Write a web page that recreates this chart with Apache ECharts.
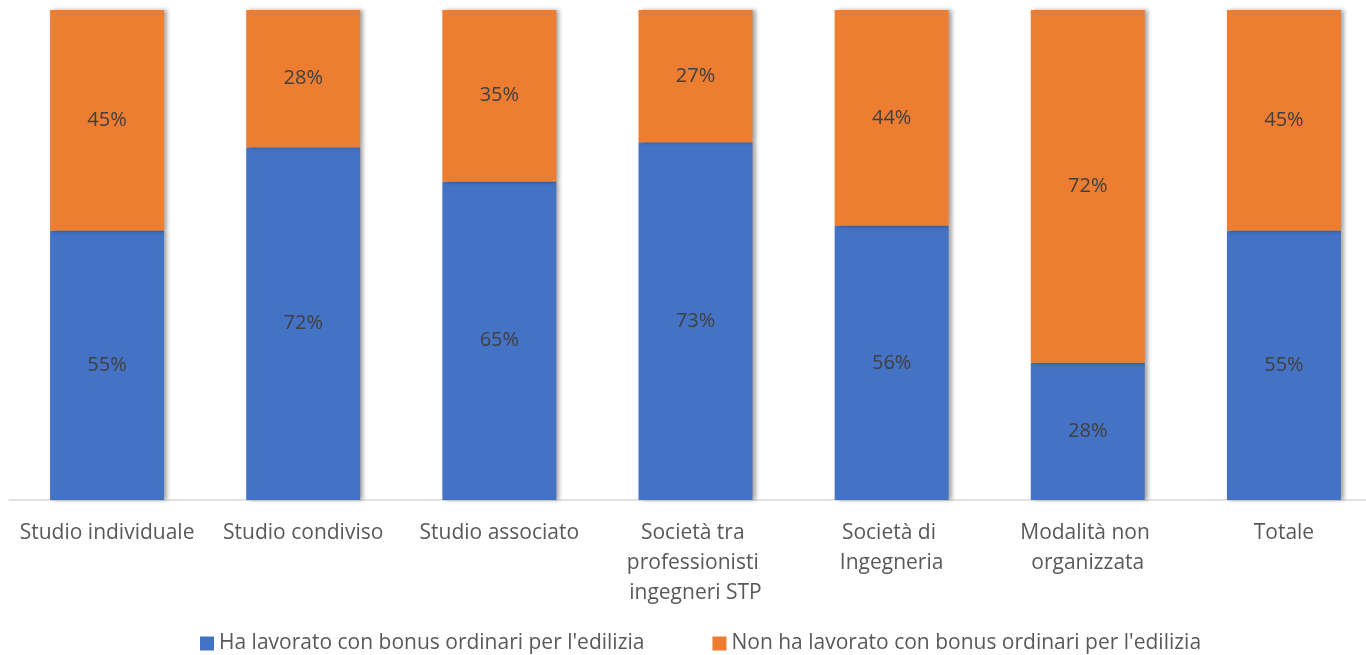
<!DOCTYPE html>
<html>
<head>
<meta charset="utf-8">
<script src="https://cdn.jsdelivr.net/npm/echarts@6/dist/echarts.min.js"></script>
<style>
  html, body { margin: 0; padding: 0; background: #fff; overflow: hidden; }
  #chart { width: 1382px; height: 655px; }
</style>
</head>
<body>
<div id="chart"></div>
<script>
var categories = ['Studio individuale', 'Studio condiviso', 'Studio associato',
  'Società tra professionisti ingegneri STP', 'Società di Ingegneria',
  'Modalità non organizzata', 'Totale'];
var conBonus = [55, 72, 65, 73, 56, 28, 55];
var senzaBonus = [45, 28, 35, 27, 44, 72, 45];
var seriesNames = ["Ha lavorato con bonus ordinari per l'edilizia",
  "Non ha lavorato con bonus ordinari per l'edilizia"];

var font = 'Open Sans';
var chart = echarts.init(document.getElementById('chart'));

function barSeries(name, data, color) {
  return {
    name: name,
    type: 'bar',
    stack: 'tot',
    data: data,
    barWidth: 114,
    itemStyle: {
      color: color,
      shadowColor: 'rgba(0,0,0,0.35)',
      shadowBlur: 4,
      shadowOffsetX: 3
    },
    label: {
      show: true,
      position: 'inside',
      formatter: '{c}%',
      color: '#404040',
      fontFamily: font,
      fontSize: 20
    }
  };
}

chart.setOption({
  animation: false,
  grid: { left: 9, top: 10, width: 1373, height: 490 },
  legend: {
    bottom: -4,
    left: 195,
    icon: 'rect',
    itemWidth: 14,
    itemHeight: 14,
    itemGap: 68,
    textStyle: { color: '#595959', fontFamily: font, fontSize: 21 },
    data: seriesNames
  },
  xAxis: {
    type: 'category',
    data: categories,
    axisLine: { lineStyle: { color: '#d9d9d9', width: 1.5 } },
    axisTick: { show: false },
    axisLabel: {
      color: '#595959',
      fontFamily: font,
      fontSize: 21,
      margin: 18,
      lineHeight: 30,
      width: 185,
      overflow: 'break',
      interval: 0
    }
  },
  yAxis: {
    type: 'value',
    min: 0,
    max: 100,
    show: false,
    splitLine: { show: false }
  },
  series: [
    barSeries(seriesNames[0], conBonus, '#4472C4'),
    barSeries(seriesNames[1], senzaBonus, '#ED7D31')
  ]
});
</script>
</body>
</html>
